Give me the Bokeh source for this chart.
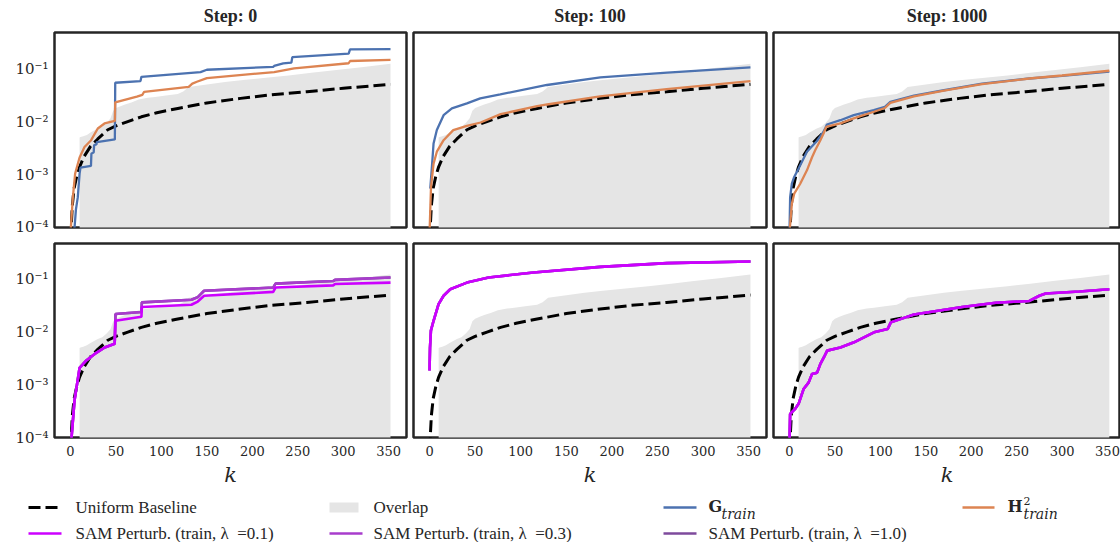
from bokeh.plotting import figure
from bokeh.layouts import column, row
from bokeh.models import Range1d, FixedTicker, CustomJSTickFormatter
from bokeh.core.properties import value
from bokeh.embed import file_html
from bokeh.resources import INLINE

# ---------------- data ----------------
step_titles = ["Step: 0", "Step: 100", "Step: 1000"]

x_ticks = [0, 50, 100, 150, 200, 250, 300, 350]
y_ticks = [1e-4, 1e-3, 1e-2, 1e-1]
y_tick_labels = ["10\u207b\u2074", "10\u207b\u00b3", "10\u207b\u00b2", "10\u207b\u00b9"]

# uniform baseline (same in every panel)
k_uniform = [0.5, 1, 2, 4, 7, 10, 15, 22, 30, 41, 50, 63, 78, 95, 118, 150, 187, 220, 260, 300, 352]
uniform = [6e-5, 1.2e-4, 2.6e-4, 5.5e-4, 9.5e-4, 1.4e-3, 2.2e-3, 3.4e-3, 4.7e-3, 7.0e-3, 8.3e-3,
           1.0e-2, 1.23e-2, 1.47e-2, 1.77e-2, 2.25e-2, 2.74e-2, 3.2e-2, 3.65e-2, 4.25e-2, 5.05e-2]

# overlap band (same in every panel)
k_overlap = [10, 11, 14, 18, 22, 26, 30, 35, 40, 44, 47, 50, 55, 60, 67, 75, 85, 93, 105, 118,
             124, 130, 150, 170, 190, 215, 240, 265, 290, 320, 352]
overlap = [0.0050, 0.0051, 0.0053, 0.0056, 0.0062, 0.0068, 0.0074, 0.0080, 0.0095, 0.0115, 0.016,
           0.018, 0.0195, 0.021, 0.023, 0.026, 0.028, 0.029, 0.031, 0.033, 0.037, 0.045, 0.050,
           0.056, 0.061, 0.067, 0.074, 0.083, 0.093, 0.106, 0.124]

# G_train per step
k_g0 = [4, 6, 8, 10, 11, 22.5, 23, 25.5, 26, 28.5, 29, 48.8, 49.2, 77, 78, 143, 150, 223, 224,
        234, 243, 244, 306, 307.5, 352]
g0 = [8e-5, 2.2e-4, 3.7e-4, 1.04e-3, 1.35e-3, 1.45e-3, 2.5e-3, 2.6e-3, 3.6e-3, 3.7e-3, 4.1e-3,
      4.6e-3, 5.4e-2, 5.8e-2, 7.0e-2, 8.6e-2, 9.5e-2, 1.08e-1, 1.12e-1, 1.25e-1, 1.3e-1, 1.65e-1,
      1.92e-1, 2.3e-1, 2.33e-1]
k_g100 = [0.8, 2.6, 4.4, 8, 15.4, 24.5, 41, 55.6, 77.6, 128.8, 187.4, 260.6, 352]
g100 = [5.4e-4, 1.39e-3, 3.85e-3, 6.9e-3, 1.32e-2, 1.77e-2, 2.2e-2, 2.74e-2, 3.26e-2, 4.9e-2,
        6.8e-2, 8.4e-2, 1.05e-1]
k_g1000 = [0, 0.7, 2.6, 5.2, 10, 19.2, 30.2, 37, 39.4, 41.2, 56, 70.7, 92.8, 105, 111, 137, 170,
           212, 264, 300, 352]
g1000 = [8e-5, 3.7e-4, 6.7e-4, 9e-4, 1.3e-3, 2.7e-3, 4.3e-3, 6.2e-3, 7.5e-3, 8.8e-3, 1.06e-2,
         1.32e-2, 1.64e-2, 1.9e-2, 2.36e-2, 3.1e-2, 3.9e-2, 5.2e-2, 6.5e-2, 7.3e-2, 8.8e-2]

# H^2_train per step
k_h0 = [0, 2.6, 5.1, 10, 15.4, 22.7, 30, 37.4, 48.8, 49.2, 73, 79, 81, 130, 134, 139, 150, 224,
        246, 306, 307.5, 352]
h0 = [8e-5, 3.7e-4, 1.04e-3, 2.1e-3, 3.3e-3, 4.45e-3, 7.4e-3, 9.2e-3, 1.03e-2, 2.3e-2, 2.95e-2,
      3.2e-2, 3.65e-2, 4.5e-2, 5.2e-2, 5.65e-2, 6.6e-2, 8.6e-2, 1.01e-1, 1.26e-1, 1.39e-1, 1.46e-1]
k_h100 = [0, 1.6, 4.4, 8, 15.4, 26, 41, 56, 78, 118, 129, 187, 260, 352]
h100 = [8e-5, 5.8e-4, 1.6e-3, 2.7e-3, 4.45e-3, 6.9e-3, 8.3e-3, 9.6e-3, 1.38e-2, 1.95e-2, 2.1e-2,
        3.0e-2, 4.1e-2, 5.8e-2]
k_h1000 = [0, 2.6, 5.2, 11.8, 15.5, 19.2, 24.7, 28.4, 34, 37.6, 40.5, 56, 70.7, 93, 105, 111,
           137, 170, 212, 264, 300, 352]
h1000 = [8e-5, 2.8e-4, 4.35e-4, 6.7e-4, 9e-4, 1.2e-3, 2.1e-3, 2.9e-3, 4.45e-3, 6e-3, 7.9e-3,
         9.2e-3, 1.15e-2, 1.53e-2, 1.8e-2, 2.26e-2, 3.0e-2, 3.85e-2, 5.1e-2, 6.5e-2, 7.4e-2, 9.1e-2]

# SAM perturbation (train) per step, lambda = 0.1 / 0.3 / 1.0
k_sam0 = [0.7, 4.4, 10, 17.4, 26.6, 37.6, 48.6, 49.5, 78, 78.5, 133, 140, 147, 223, 225.5, 289,
          291, 352]
sam0_lam01 = [8e-5, 5e-4, 2.1e-3, 2.9e-3, 3.85e-3, 5.1e-3, 6e-3, 1.64e-2, 1.95e-2, 3.0e-2, 3.3e-2,
              3.8e-2, 4.9e-2, 5.8e-2, 7.0e-2, 7.7e-2, 8.2e-2, 8.7e-2]
sam0_lam03 = [8e-5, 5e-4, 2.1e-3, 2.9e-3, 3.85e-3, 5.1e-3, 6e-3, 2.2e-2, 2.4e-2, 3.66e-2, 4.1e-2,
              4.6e-2, 6.1e-2, 7.0e-2, 8.3e-2, 9.3e-2, 9.8e-2, 1.09e-1]
sam0_lam10 = [8e-5, 5e-4, 2.1e-3, 2.9e-3, 3.85e-3, 5.1e-3, 6e-3, 2.2e-2, 2.4e-2, 3.66e-2, 4.1e-2,
              4.6e-2, 6.1e-2, 7.0e-2, 8.3e-2, 9.3e-2, 9.8e-2, 1.09e-1]
k_sam100 = [0, 0.5, 1.5, 4.4, 9.9, 15.4, 22.7, 41, 64.8, 114, 187.4, 260.6, 352]
sam100 = [1.86e-3, 5e-3, 1.07e-2, 1.64e-2, 3.4e-2, 4.9e-2, 6.5e-2, 8.7e-2, 1.09e-1, 1.35e-1,
          1.73e-1, 2.04e-1, 2.18e-1]
k_sam1000 = [0, 0.7, 6.3, 10, 15.5, 21, 24.8, 30.4, 34, 37.8, 41.5, 56, 71, 93, 108, 111.5, 137,
             167, 190, 227, 264, 275, 282, 319, 352]
sam1000 = [8e-5, 2.8e-4, 3.5e-4, 4.35e-4, 8.3e-4, 1.1e-3, 1.6e-3, 1.7e-3, 2.5e-3, 3.3e-3,
           4.45e-3, 5.1e-3, 6.4e-3, 9.9e-3, 1.14e-2, 1.53e-2, 2.15e-2, 2.6e-2, 3.0e-2, 3.6e-2,
           3.9e-2, 4.9e-2, 5.4e-2, 5.9e-2, 6.5e-2]

top_series = [(k_g0, g0, k_h0, h0), (k_g100, g100, k_h100, h100), (k_g1000, g1000, k_h1000, h1000)]
bottom_series = [
    [(k_sam0, sam0_lam10), (k_sam0, sam0_lam03), (k_sam0, sam0_lam01)],
    [(k_sam100, sam100), (k_sam100, sam100), (k_sam100, sam100)],
    [(k_sam1000, sam1000), (k_sam1000, sam1000), (k_sam1000, sam1000)],
]

# ---------------- style ----------------
INK = "#262626"
FILL_GRAY = "#e5e5e5"
C_G = "#4c72b0"
C_H = "#dd8452"
C_SAM = ["#7e4a9c", "#a83ccc", "#cc00ff"]   # lambda 1.0, 0.3, 0.1 (drawing order)
DASH = "12 5"

fig_w = [409, 360, 351]
border_lr = [(54, 3), (4, 3), (4, 0)]
x_end = [369.6, 369.6, 364.3]
X0 = -17.6
Y_RANGE = (1e-4, 0.48)
row_h = [235, 257]
border_tb = [(32, 8), (8, 55)]


def make_panel(r, c):
    bl, br = border_lr[c]
    bt, bb = border_tb[r]
    p = figure(width=fig_w[c], height=row_h[r],
               x_range=Range1d(X0, x_end[c]), y_range=Range1d(*Y_RANGE),
               y_axis_type="log", output_backend="svg", toolbar_location=None,
               min_border_left=bl, min_border_right=br,
               min_border_top=bt, min_border_bottom=bb,
               background_fill_color="white", border_fill_color="white")
    p.grid.visible = False
    p.outline_line_color = INK
    p.outline_line_width = 2.5

    for ax in p.axis:
        ax.major_tick_line_color = None
        ax.minor_tick_line_color = None
        ax.axis_line_color = None
        ax.major_tick_in = 0
        ax.major_tick_out = 0
        ax.minor_tick_in = 0
        ax.minor_tick_out = 0
        ax.major_label_text_font = "DejaVu Serif"
        ax.major_label_text_font_size = "13px"
        ax.major_label_text_color = INK

    p.xaxis.ticker = FixedTicker(ticks=x_ticks)
    p.xaxis.major_label_standoff = 8
    p.yaxis.ticker = FixedTicker(ticks=y_ticks, minor_ticks=[])
    p.yaxis.major_label_standoff = 6
    p.yaxis.major_label_text_font_size = "15px"
    p.yaxis.formatter = CustomJSTickFormatter(
        args=dict(tick_vals=y_ticks, tick_text=y_tick_labels),
        code="""
        for (let i = 0; i < tick_vals.length; i++) {
            if (Math.abs(Math.log10(tick_vals[i]) - Math.log10(tick)) < 1e-6) return tick_text[i];
        }
        return "";
        """)

    p.xaxis.visible = (r == 1)
    p.yaxis.visible = (c == 0)
    if r == 1:
        p.xaxis.axis_label = "k"
        p.xaxis.axis_label_text_font = "DejaVu Serif"
        p.xaxis.axis_label_text_font_style = "italic"
        p.xaxis.axis_label_text_font_size = "21px"
        p.xaxis.axis_label_text_color = INK
        p.xaxis.axis_label_standoff = 4

    if r == 0:
        p.title.text = step_titles[c]
        p.title.align = "center"
        p.title.vertical_align = "top"
        p.title.text_font = "Liberation Serif"
        p.title.text_font_size = "18px"
        p.title.text_font_style = "bold"
        p.title.text_color = INK
        p.title.standoff = 10

    # overlap band, then uniform baseline
    p.varea(x=k_overlap, y1=[1e-6] * len(k_overlap), y2=overlap, fill_color=FILL_GRAY)
    p.line(k_uniform, uniform, line_color="black", line_width=3, line_dash=DASH)

    if r == 0:
        kg, g, kh, h = top_series[c]
        p.line(kg, g, line_color=C_G, line_width=2.3)
        p.line(kh, h, line_color=C_H, line_width=2.3)
    else:
        for (ks, s), col in zip(bottom_series[c], C_SAM):
            p.line(ks, s, line_color=col, line_width=2.6)
    return p


top = row(*[make_panel(0, c) for c in range(3)])
bottom = row(*[make_panel(1, c) for c in range(3)])

# ---------------- legend strip ----------------
LEG_H = 542 - sum(row_h)
leg = figure(width=1120, height=LEG_H, x_range=Range1d(0, 1120), y_range=Range1d(LEG_H, 0),
             output_backend="svg", toolbar_location=None, min_border=0,
             x_axis_location=None, y_axis_location=None)
leg.grid.visible = False
leg.outline_line_color = None

key_x = [28, 329, 663, 962]
key_len = [30, 29, 33, 32]
text_x = [75, 373, 708, 1007]
row_y = [15, 41]
LEG_FONT = value("Liberation Serif")

# row 1
leg.line([key_x[0], key_x[0] + key_len[0]], [row_y[0]] * 2, line_color="black", line_width=3,
         line_dash=DASH)
leg.quad(left=[key_x[1]], right=[key_x[1] + key_len[1]], top=[row_y[0] - 5],
         bottom=[row_y[0] + 5], fill_color=FILL_GRAY, line_color=None)
leg.line([key_x[2], key_x[2] + key_len[2]], [row_y[0]] * 2, line_color=C_G, line_width=2.5)
leg.line([key_x[3], key_x[3] + key_len[3]], [row_y[0]] * 2, line_color=C_H, line_width=2.5)
leg.text(x=text_x[:2], y=[row_y[0]] * 2, text=["Uniform Baseline", "Overlap"],
         text_font=LEG_FONT, text_font_size="17px", text_baseline="middle", text_color=INK)
# bold symbols with italic subscripts
leg.text(x=[text_x[2], text_x[3]], y=[row_y[0] - 1] * 2, text=["G", "H"],
         text_font=value("DejaVu Serif"), text_font_style="bold", text_font_size="16px",
         text_baseline="middle", text_color=INK)
leg.text(x=[text_x[2] + 13, text_x[3] + 16], y=[row_y[0] + 6] * 2, text=["train", "train"],
         text_font=value("DejaVu Serif"), text_font_style="italic", text_font_size="14px",
         text_baseline="middle", text_color=INK)
leg.text(x=[text_x[3] + 16], y=[row_y[0] - 7], text=["2"],
         text_font=value("DejaVu Serif"), text_font_size="11px",
         text_baseline="middle", text_color=INK)

# row 2
sam_labels = ["SAM Perturb. (train, \u03bb\u2002=0.1)",
              "SAM Perturb. (train, \u03bb\u2002=0.3)",
              "SAM Perturb. (train, \u03bb\u2002=1.0)"]
sam_key_colors = [C_SAM[2], C_SAM[1], C_SAM[0]]
for i in range(3):
    leg.line([key_x[i], key_x[i] + 33], [row_y[1]] * 2, line_color=sam_key_colors[i],
             line_width=2.5)
leg.text(x=text_x[:3], y=[row_y[1]] * 3, text=sam_labels, text_font=LEG_FONT,
         text_font_size="17px", text_baseline="middle", text_color=INK)

layout = column(top, bottom, leg)
open("out.html", "w").write(file_html(layout, INLINE))
